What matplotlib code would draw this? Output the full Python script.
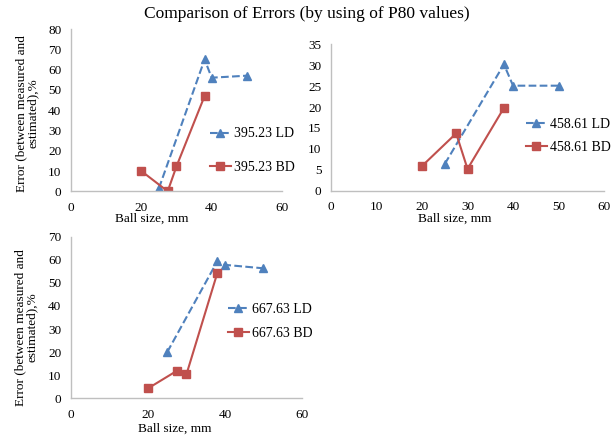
import matplotlib
matplotlib.use("Agg")
import matplotlib.pyplot as plt

plt.rcParams['font.family'] = ['Liberation Serif', 'DejaVu Serif']

BLUE = '#4F81BD'
RED = '#C0504D'

# panel 1 (395.23)
ld1_x = [25, 38, 40, 50]
ld1_y = [1.5, 65, 56, 57]
bd1_x = [20, 27.5, 30, 38]
bd1_y = [10, 0, 12.3, 47]

# panel 2 (458.61)
ld2_x = [25, 38, 40, 50]
ld2_y = [6.4, 30.2, 25.1, 25.1]
bd2_x = [20, 27.5, 30, 38]
bd2_y = [5.9, 13.7, 5.2, 19.8]

# panel 3 (667.63)
ld3_x = [25, 38, 40, 50]
ld3_y = [20, 59.3, 57.8, 56.3]
bd3_x = [20, 27.5, 30, 38]
bd3_y = [4.3, 11.9, 10.4, 54.2]

ylabel = "Error (between measured and\nestimated),%"


def draw_panel(ax, ldx, ldy, bdx, bdy, name, ymax, ystep, xstep,
               leg_pos, leg_space, xl_pos, yl_pos=None):
    ax.plot(ldx, ldy, color=BLUE, ls='--', lw=1.5, marker='^', ms=5.5,
            label=name + " LD")
    ax.plot(bdx, bdy, color=RED, ls='-', lw=1.5, marker='s', ms=5.5,
            label=name + " BD")
    ax.set_xlim(0, 60)
    ax.set_ylim(0, ymax)
    ax.set_xticks(range(0, 61, xstep))
    ax.set_yticks(range(0, ymax + 1, ystep))
    ax.tick_params(length=0, labelsize=9.5)
    ax.tick_params(axis='x', pad=7.5)
    ax.tick_params(axis='y', pad=7)
    for s in ['top', 'right']:
        ax.spines[s].set_visible(False)
    for s in ['left', 'bottom']:
        ax.spines[s].set_color('#BFBFBF')
        ax.spines[s].set_linewidth(1)
    ax.set_xlabel("Ball size, mm", fontsize=9.5)
    ax.xaxis.set_label_coords(*xl_pos)
    if yl_pos is not None:
        ax.set_ylabel(ylabel, fontsize=9.5, linespacing=1.0)
        ax.yaxis.set_label_coords(*yl_pos)
    ax.legend(loc='center left', bbox_to_anchor=leg_pos,
              bbox_transform=ax.figure.transFigure, frameon=False,
              fontsize=10, handlelength=1.5, handletextpad=0.2,
              labelspacing=leg_space, borderpad=0, borderaxespad=0)


fig = plt.figure(figsize=(6.13, 4.41), dpi=100)

ax1 = fig.add_axes([0.1158, 0.5662, 0.3442, 0.368])
ax2 = fig.add_axes([0.54, 0.5676, 0.4454, 0.332])
ax3 = fig.add_axes([0.1158, 0.0968, 0.3768, 0.3665])

draw_panel(ax1, ld1_x, ld1_y, bd1_x, bd1_y, "395.23", 80, 10, 20,
           (210 / 613, 1 - 150.5 / 441), 1.45, (0.384, -0.134),
           (-0.152, 0.482))
draw_panel(ax2, ld2_x, ld2_y, bd2_x, bd2_y, "458.61", 35, 5, 10,
           (526 / 613, 1 - 136 / 441), 0.75, (0.454, -0.152))
draw_panel(ax3, ld3_x, ld3_y, bd3_x, bd3_y, "667.63", 70, 10, 20,
           (228 / 613, 1 - 321.5 / 441), 0.75, (0.45, -0.153),
           (-0.143, 0.44))

fig.text(0.5, 1 - 14 / 441, "Comparison of Errors (by using of P80 values)",
         ha='center', va='center', fontsize=12.5)

fig.savefig("out.png", dpi=100)
